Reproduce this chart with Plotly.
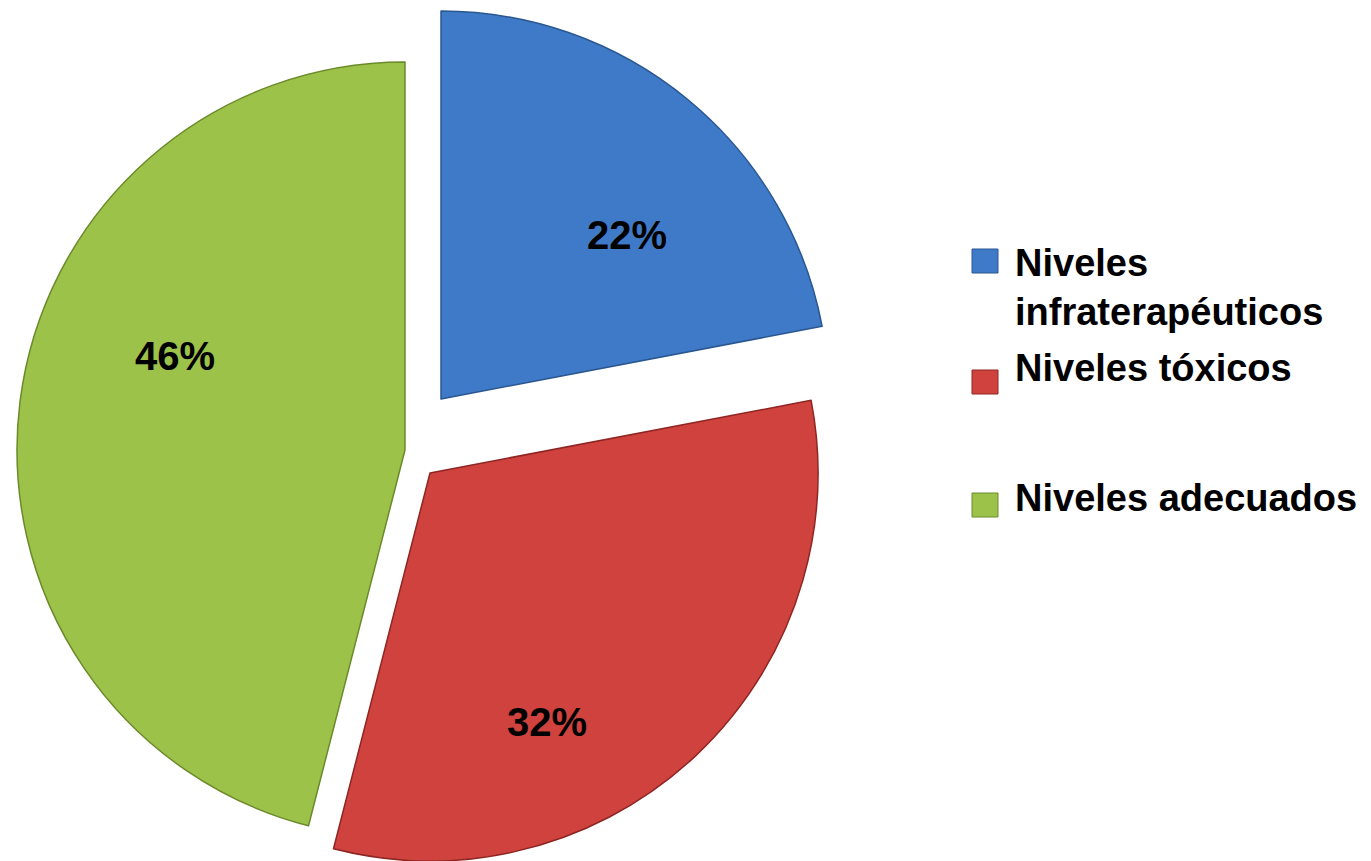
import math
import plotly.graph_objects as go

# Distribution of measured levels
categories = ["Niveles infraterapéuticos", "Niveles tóxicos", "Niveles adecuados"]
legend_text = ["Niveles<br>infraterapéuticos", "Niveles tóxicos", "Niveles adecuados"]
values = [22, 32, 46]
colors = ["#3f7ac8", "#cf423e", "#9dc24a"]
edge_colors = ["#2a5790", "#8e2623", "#6b8a2a"]

W, H = 1371, 861
R = 388
# exploded slice apex positions (pixels from top-left)
apex = [(441, 399), (430, 473), (405, 450)]
# percent label placement inside each slice: angle shift from mid-angle (deg), radius fraction
label_shift = [9, 18, 15]
label_rfrac = [0.64, 0.71, 0.64]

FONT = "Liberation Sans, Arial, sans-serif"

fig = go.Figure()
total = sum(values)
start = 0.0
for i, cat in enumerate(categories):
    cx, cy = apex[i]
    slice_colors = [colors[j] if j == i else "rgba(0,0,0,0)" for j in range(len(values))]
    line_colors = [edge_colors[j] if j == i else "rgba(0,0,0,0)" for j in range(len(values))]
    line_widths = [1.5 if j == i else 0 for j in range(len(values))]
    fig.add_trace(go.Pie(
        labels=categories,
        values=values,
        sort=False,
        direction="clockwise",
        rotation=0,
        marker=dict(colors=slice_colors, line=dict(color=line_colors, width=line_widths)),
        textinfo="none",
        showlegend=False,
        hoverinfo="label+percent",
        domain=dict(
            x=[(cx - R) / W, (cx + R) / W],
            y=[max(0, 1 - (cy + R) / H), min(1, 1 - (cy - R) / H)],
        ),
    ))

    # percent label for this slice
    sweep = 360.0 * values[i] / total
    ang = math.radians(start + sweep / 2 + label_shift[i])
    lx = cx + label_rfrac[i] * R * math.sin(ang)
    ly = cy - label_rfrac[i] * R * math.cos(ang)
    fig.add_annotation(
        xref="paper", yref="paper", x=lx / W, y=1 - ly / H,
        xanchor="center", yanchor="middle", showarrow=False,
        text=f"{round(100 * values[i] / total)}%",
        font=dict(family=FONT, size=40, color="black", weight="bold"),
    )
    start += sweep

# legend on the right
marker_centers = [261, 382, 505]
text_tops = [240, 345, 475]
for i, txt in enumerate(legend_text):
    my = marker_centers[i]
    fig.add_shape(
        type="rect", xref="paper", yref="paper",
        x0=972 / W, x1=998 / W,
        y0=1 - (my + 12) / H, y1=1 - (my - 12) / H,
        fillcolor=colors[i], line=dict(color=edge_colors[i], width=1),
    )
    fig.add_annotation(
        xref="paper", yref="paper", x=1013 / W, y=1 - text_tops[i] / H,
        xanchor="left", yanchor="top", align="left", showarrow=False,
        text=txt, font=dict(family=FONT, size=38, color="black", weight="bold"),
    )

fig.update_layout(
    width=W, height=H,
    margin=dict(l=0, r=0, t=0, b=0),
    paper_bgcolor="white", plot_bgcolor="white",
)

fig.write_html("out.html")
